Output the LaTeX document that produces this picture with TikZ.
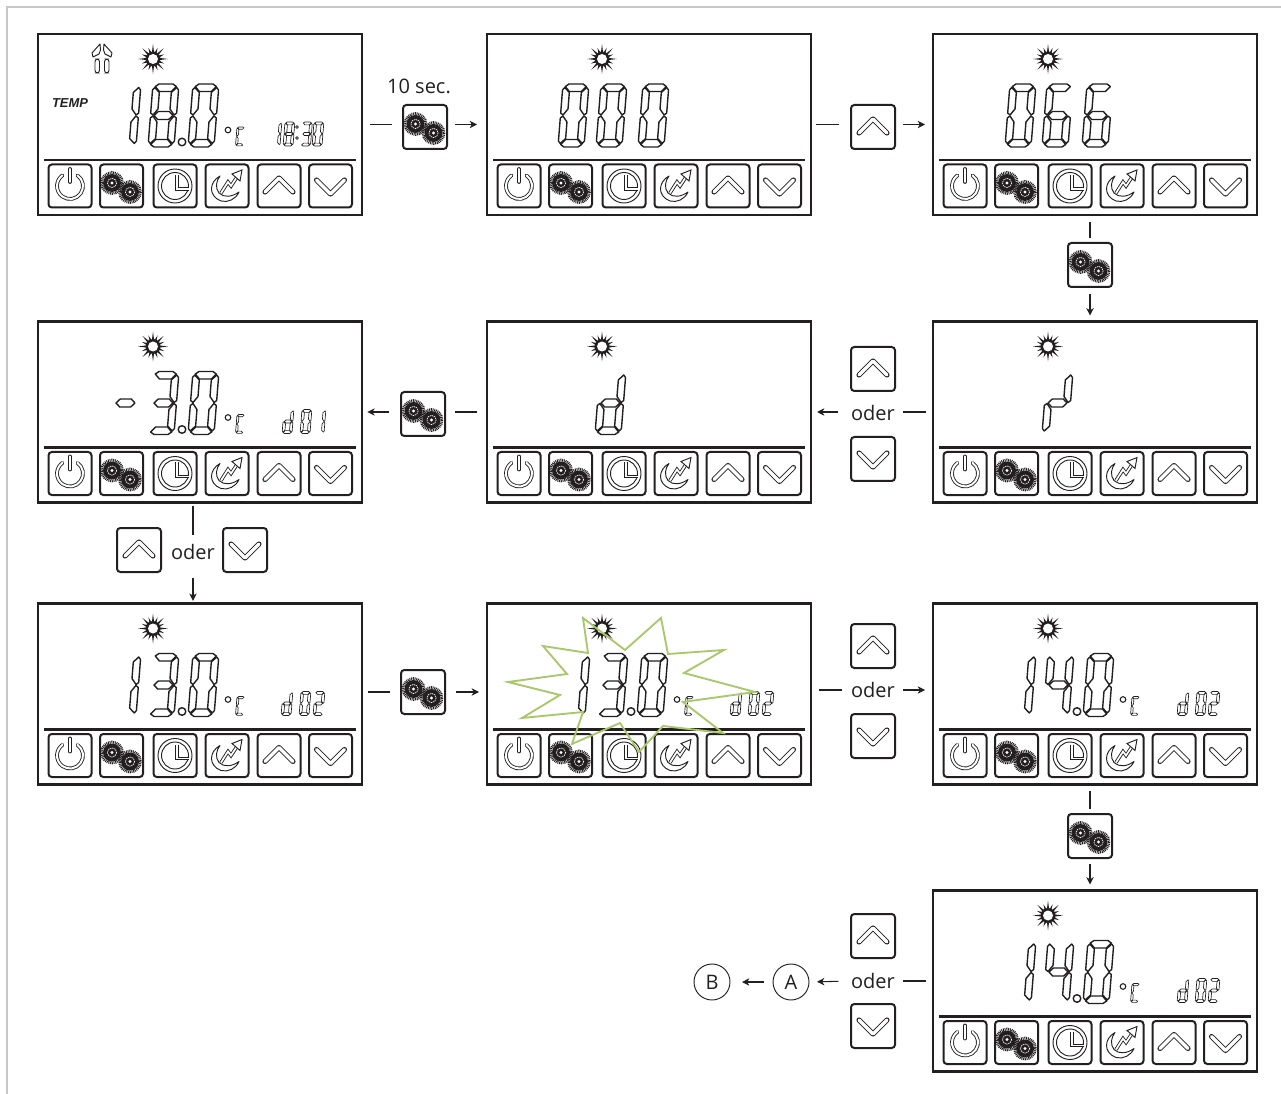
\documentclass[tikz,border=0pt]{standalone}
\usepackage{fontspec}
\setmainfont{Open Sans}
\newfontfamily\tempfont{Liberation Sans}
\usetikzlibrary{arrows.meta}

\definecolor{ink}{HTML}{231F20}
\definecolor{flashgreen}{HTML}{A9C76B}
\definecolor{framegray}{HTML}{C6C7C8}

% segments of one display digit
\newcommand\sega{\draw[seg] (2.5,2.5)--(6,0)--(20,0)--(23.5,2.5)--(19,7.5)--(7,7.5)--cycle;}
\newcommand\segb{\draw[seg] (26,6)--(24,3.5)--(19,8.5)--(19,25)--(23.5,31)--(26,29)--cycle;}
\newcommand\segc{\draw[seg] (26,57)--(24,59.5)--(19,54.5)--(19,38)--(23.5,32)--(26,34)--cycle;}
\newcommand\segd{\draw[seg] (2.5,60.5)--(6,63)--(20,63)--(23.5,60.5)--(19,55.5)--(7,55.5)--cycle;}
\newcommand\sege{\draw[seg] (0,57)--(2,59.5)--(7,54.5)--(7,38)--(2.5,32)--(0,34)--cycle;}
\newcommand\segf{\draw[seg] (0,6)--(2,3.5)--(7,8.5)--(7,25)--(2.5,31)--(0,29)--cycle;}
\newcommand\segg{\draw[seg] (3.5,31.5)--(7.5,27.5)--(18.5,27.5)--(22.5,31.5)--(18.5,35.5)--(7.5,35.5)--cycle;}
\newcommand\defdigit[2]{\expandafter\def\csname dgt#1\endcsname{\foreach \s in {#2}{\csname seg\s\endcsname}}}
\defdigit{0}{a,b,c,d,e,f}
\defdigit{1}{b,c}
\defdigit{2}{a,b,g,e,d}
\defdigit{3}{a,b,g,c,d}
\defdigit{4}{f,g,b,c}
\defdigit{6}{a,f,g,e,d,c}
\defdigit{8}{a,b,c,d,e,f,g}
\defdigit{C}{a,f,e,d}
\defdigit{d}{b,c,d,e,g}
\defdigit{r}{b,g,e}
\defdigit{m}{g}

\tikzset{
    seg/.style={draw=ink, line width=1.05pt, line join=round},
    dbl/.style={draw=ink, line width=.65pt, double=white, double distance=2.5pt, line cap=round, line join=round},
    pics/dg/.style={code={
        \begin{scope}[xslant=0.08]
            \csname dgt#1\endcsname
        \end{scope}
    }},
    pics/sun/.style={code={
        \fill[ink] (0,0) circle[radius=7.5];
        \foreach \a in {0,45,...,315} \fill[ink] (\a-11:6) -- (\a:15) -- (\a+11:6) -- cycle;
        \foreach \a in {22.5,67.5,...,337.5} \fill[ink] (\a-11:6) -- (\a:12) -- (\a+11:6) -- cycle;
        \fill[white] (0,0) circle[radius=5];
    }},
    pics/fan/.style={code={
        \foreach \m in {1,-1} {
            \begin{scope}[xscale=\m]
                \draw[ink, line width=.7pt, line join=round] (-2,-14)--(-10,-5)--(-9,-1)--(-3,-4)--(-1.5,-8)--cycle;
                \draw[ink, line width=.7pt, rounded corners=2] (-7,1) rectangle (-2.5,15);
            \end{scope}
        }
    }},
    pics/power/.style={code={
        \draw[dbl, double distance=1.5pt] (-55:13) arc (-55:235:13);
        \draw[dbl, double distance=1.5pt] (0,-17) -- (0,-4);
    }},
    pics/gears/.style={code={
        \foreach \cx/\cy in {-9.5/-3, 8.5/6} {
            \begin{scope}[shift={(\cx,\cy)}]
                \fill[ink] (0,0) circle[radius=9];
                \draw[ink, line width=2pt, dash pattern=on .7pt off .6pt] (0,0) circle[radius=10.5];
                \draw[white, line width=.5pt, dash pattern=on 1pt off .6pt] (0,0) circle[radius=4.6];
                \fill[white] (0,0) circle[radius=1.6];
            \end{scope}
        }
    }},
    pics/clock/.style={code={
        \draw[ink, line width=.7pt] (0,0) circle[radius=17];
        \draw[ink, line width=.7pt] (0,0) circle[radius=13.5];
        \draw[dbl, double distance=1.3pt, line cap=butt, line join=miter] (2,-11) -- (2,3) -- (14,3);
    }},
    pics/moon/.style={code={
        \draw[ink, line width=.7pt, line join=round] (-7,-10) .. controls (-18,-4) and (-19,10) .. (-6,15)
            .. controls (1,17) and (9,13) .. (12,6) .. controls (5,11) and (-3,12) .. (-8,7)
            .. controls (-12,2) and (-11,-5) .. (-7,-10) -- cycle;
        \draw[dbl, double distance=1.3pt, line cap=butt, line join=miter] (-6,7) -- (1,-4) -- (4,0) -- (10,-9);
        \draw[ink, fill=white, line width=.7pt, line join=miter] (15,-16) -- (5,-12) -- (13,-5) -- cycle;
    }},
    pics/up/.style={code={
        \draw[dbl] (-14,6) -- (0,-8) -- (14,6);
    }},
    pics/down/.style={code={
        \draw[dbl] (-14,-6) -- (0,8) -- (14,-6);
    }},
    pics/face/.style={code={
        \draw[ink, line width=1.7pt] (6,126) -- (318,126);
        \foreach \x/\k in {32/power, 83.5/gears, 137/clock, 189/moon, 241/up, 292.5/down} {
            \draw[ink, line width=1.5pt, rounded corners=2.5] (\x-21.5,130.5) rectangle (\x+21.5,173.5);
            \pic at (\x,152) {\k};
        }
        \pic at (115,25) {sun};
    }},
}

% readouts, placed from the corner of a panel
\newcommand\bigread[2]{\foreach \x/\d in {#2} \pic at ([shift={(\x,50)}]#1.north west) {dg=\d};}
\newcommand\smallread[2]{\foreach \x/\d in {#2} \pic[scale=.38, seg/.style={draw=ink, line width=.5pt, line join=round}] at ([shift={(\x,88)}]#1.north west) {dg=\d};}
\newcommand\dotunit[1]{
    \draw[seg] ([shift={(144,108)}]#1.north west) circle[radius=3.8];
    \draw[ink, line width=.8pt] ([shift={(190,96)}]#1.north west) circle[radius=2.8];
    \pic[scale=.3, seg/.style={draw=ink, line width=.5pt, line join=round}] at ([shift={(199,93)}]#1.north west) {dg=C};
}

\begin{document}
\begin{tikzpicture}[x=.75pt, y=-.75pt,
        panel/.style={draw=ink, line width=1.8pt, minimum width=243pt, minimum height=135.75pt, inner sep=0pt, outer sep=0pt},
        keybox/.style={draw=ink, line width=1.5pt, rounded corners=2.5, minimum size=33pt, inner sep=0pt, outer sep=0pt},
        word/.style={font=\fontsize{15}{18}\selectfont, text=ink, inner sep=0pt, outer sep=0pt},
        ring/.style={word, draw=ink, line width=.7pt, circle, minimum size=27pt},
        wire/.style={draw=ink, line width=.8pt},
        arrow/.style={wire, -{Stealth[length=5.5pt, width=5.5pt, inset=1.6pt]}},
        flash/.style={draw=flashgreen, line width=1.4pt, line join=miter}]
    \useasboundingbox (0,0) rectangle (1281,1094);
    \draw[framegray, line width=1.8pt] (7,1094) -- (7,7) -- (1281,7);

    \foreach \n/\x/\y in {p1/200/124.5, p2/649/124.5, p3/1095/124.5,
            p4/200/412, p5/649/412, p6/1095/412,
            p7/200/694, p8/649/694, p9/1095/694, p10/1095/981} {
        \node[panel] (\n) at (\x,\y) {};
        \pic at (\n.north west) {face};
    }

    % first screen
    \pic at ([shift={(64,24)}]p1.north west) {fan};
    \node[font=\tempfont\bfseries\itshape\fontsize{9.7}{10}\selectfont, text=ink, inner sep=0pt] (temp) at (70,103) {TEMP};
    \bigread{p1}{77/1, 115/8, 155/0}
    \dotunit{p1}
    \smallread{p1}{234/1, 247/8, 264.5/3, 276/0}
    \fill[white, draw=ink, line width=.5pt] ([shift={(259,93)}]p1.north west) circle[radius=1.4];
    \fill[white, draw=ink, line width=.5pt] ([shift={(259,104)}]p1.north west) circle[radius=1.4];

    % the other screens
    \bigread{p2}{76/0, 114/0, 156/0}
    \bigread{p3}{77/0, 114/6, 154/6}
    \bigread{p4}{77/m, 115/3, 155/0}
    \dotunit{p4}
    \smallread{p4}{246/d, 264/0, 278/1}
    \bigread{p5}{113/d}
    \bigread{p6}{114/r}
    \foreach \p in {p7, p8} {
        \bigread{\p}{77/1, 115/3, 155/0}
        \dotunit{\p}
        \smallread{\p}{245/d, 263/0, 277/2}
    }
    \foreach \p in {p9, p10} {
        \bigread{\p}{77/1, 115/4, 155/0}
        \dotunit{\p}
        \smallread{\p}{246/d, 264/0, 277/2}
    }

    % keys between the screens
    \foreach \n/\x/\y/\k in {g1/425/127/gears, u1/873/127/up, g2/1090/265/gears,
            u2/873/369/up, d2/873/459/down, g3/423/414/gears,
            u3/139/550/up, d3/245/550/down, g4/423/692/gears,
            u4/873/646/up, d4/873/736/down, g5/1090/836/gears,
            u5/873/936/up, d5/873/1026/down} {
        \node[keybox] (\n) at (\x,\y) {};
        \pic at (\n) {\k};
    }
    \node[word] (t1) at (419,86) {10 sec.};
    \node[word] (o1) at (873,413) {oder};
    \node[word] (o2) at (193,552) {oder};
    \node[word] (o3) at (873,690) {oder};
    \node[word] (o4) at (873,981) {oder};
    \node[ring] (a) at (791,982) {A};
    \node[ring] (b) at (712,982) {B};

    \draw[wire, shorten <=6pt, shorten >=8pt] (p1.east) -- (p1.east -| g1.west);
    \draw[arrow, shorten <=6pt, shorten >=7.5pt] (p1.east -| g1.east) -- (p2.west);
    \draw[wire, shorten <=4pt, shorten >=9pt] (p2.east) -- (p2.east -| u1.west);
    \draw[arrow, shorten <=6pt, shorten >=6pt] (p2.east -| u1.east) -- (p3.west);
    \draw[wire, shorten <=5pt, shorten >=4pt] (g2 |- p3.south) -- (g2.north);
    \draw[arrow, shorten <=5pt, shorten >=4.5pt] (g2.south) -- (g2 |- p6.north);

    \draw[wire, shorten <=5pt, shorten >=6pt] (p6.west) -- (p6.west -| o1.east);
    \draw[arrow, shorten <=10pt, shorten >=4.5pt] (p5.east -| o1.west) -- (p5.east);
    \draw[wire, shorten <=7.5pt, shorten >=7.5pt] (p5.west) -- (p5.west -| g3.east);
    \draw[arrow, shorten <=9pt, shorten >=4pt] (p5.west -| g3.west) -- (p4.east);
    \draw[wire, shorten <=2.5pt, shorten >=7pt] (o2 |- p4.south) -- (o2.north);
    \draw[arrow, shorten <=14pt, shorten >=2pt] (o2.south) -- (o2 |- p7.north);

    \draw[wire, shorten <=4.5pt, shorten >=8pt] (g4.west -| p7.east) -- (g4.west);
    \draw[arrow, shorten <=8.5pt, shorten >=6pt] (g4.east) -- (g4.east -| p8.west);
    \draw[wire, shorten <=6pt, shorten >=7pt] (o3.west -| p8.east) -- (o3.west);
    \draw[arrow, shorten <=6pt, shorten >=6pt] (o3.east) -- (o3.east -| p9.west);
    \draw[wire, shorten <=5pt, shorten >=4pt] (g5 |- p9.south) -- (g5.north);
    \draw[arrow, shorten <=4.5pt, shorten >=4.5pt] (g5.south) -- (g5 |- p10.north);

    \draw[wire, shorten <=5pt, shorten >=6pt] (p10.west) -- (o4.east);
    \draw[arrow, shorten <=9.5pt, shorten >=6pt] (o4.west) -- (a.east);
    \draw[arrow, shorten <=6.5pt, shorten >=9pt] (a.west) -- (b.east);

    % burst on the blinking screen
    \draw[flash] (583,618) -- (625,650) -- (661,618) -- (668,654) -- (724,650) -- (684,673) -- (755,692)
        -- (683,702) -- (723,733) -- (663,726) -- (639,752) -- (620,723) -- (572,744) -- (583,712)
        -- (522,718) -- (560,695) -- (508,682) -- (567,674) -- (543,646) -- (588,653) -- cycle;
\end{tikzpicture}
\end{document}
